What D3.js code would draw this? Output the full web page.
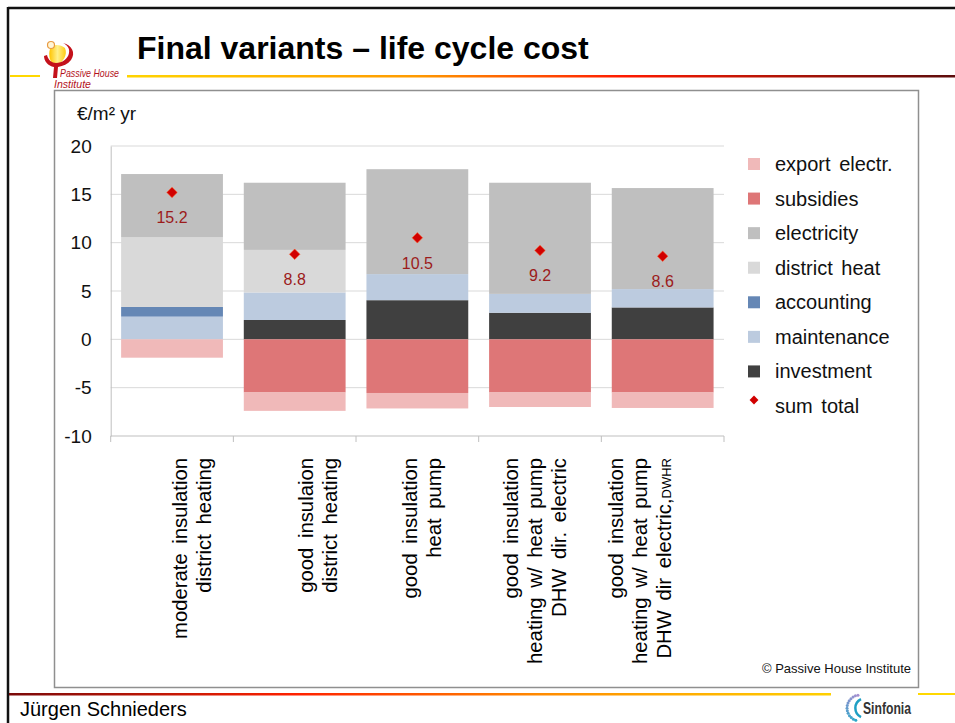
<!DOCTYPE html>
<html>
<head>
<meta charset="utf-8">
<script src="https://cdn.jsdelivr.net/npm/d3@7"></script>
<style>
    body { margin: 0; background: #fff; }
    svg { display: block; font-family: "Liberation Sans", Arial, sans-serif; }
</style>
</head>
<body>
<svg id="slide" width="955" height="723"></svg>
<script>
// ---- chart values ----
const categories = [
    ["moderate insulation", "district heating"],
    ["good insulaion", "district heating"],
    ["good insulation", "heat pump"],
    ["good insulation", "heating w/ heat pump", "DHW dir. electric"],
    ["good insulation", "heating w/ heat pump", "DHW dir electric,|DWHR"]
];
const investment   = [0, 2.0, 4.05, 2.75, 3.3];
const maintenance  = [2.35, 2.85, 2.7, 1.95, 1.9];
const accounting   = [1.0, 0, 0, 0, 0];
const districtHeat = [7.2, 4.4, 0, 0, 0];
const electricity  = [6.55, 6.95, 10.85, 11.5, 10.45];
const subsidies    = [0, -5.5, -5.55, -5.5, -5.5];
const exportElectr = [-1.9, -1.9, -1.6, -1.5, -1.6];
const sumTotal     = [15.2, 8.8, 10.5, 9.2, 8.6];
const yTicks       = [-10, -5, 0, 5, 10, 15, 20];

// series in stacking order (bottom up, then zero down)
const series = [
    {key: "investment",   label: "investment",     values: investment,   color: "#404040"},
    {key: "maintenance",  label: "maintenance",    values: maintenance,  color: "#bccbdf"},
    {key: "accounting",   label: "accounting",     values: accounting,   color: "#6587b5"},
    {key: "districtHeat", label: "district heat",  values: districtHeat, color: "#d9d9d9"},
    {key: "electricity",  label: "electricity",    values: electricity,  color: "#bfbfbf"},
    {key: "subsidies",    label: "subsidies",      values: subsidies,    color: "#de7677"},
    {key: "exportElectr", label: "export electr.", values: exportElectr, color: "#f0b9b9"}
];
const legendOrder = ["exportElectr", "subsidies", "electricity", "districtHeat",
                     "accounting", "maintenance", "investment"];

// small sideways nudges of the rotated category labels (Excel places them unevenly)
const labelNudge = [15, 18, 0, -22, -40];

const svg = d3.select("#slide");

// ---------- slide furniture ----------
const defs = svg.append("defs");

function gradient(id, stops){
    const g = defs.append("linearGradient").attr("id", id)
        .attr("x1", "0%").attr("x2", "100%").attr("y1", "0%").attr("y2", "0%");
    stops.forEach(function(s){
        g.append("stop").attr("offset", s[0]).attr("stop-color", s[1]);
    });
}
gradient("topLine", [["0%", "#ffd400"], ["35%", "#ff9a00"], ["60%", "#ff1a00"], ["100%", "#5c0c0c"]]);
gradient("bottomLine", [["0%", "#7a0a0a"], ["35%", "#ff2200"], ["65%", "#ff8c00"], ["100%", "#ffd000"]]);
gradient("blob", [["0%", "#ffc400"], ["50%", "#fff08a"], ["100%", "#ffcc10"]]);

// black slide edge
svg.append("line").attr("x1", 8).attr("x2", 955).attr("y1", 8).attr("y2", 8)
    .attr("stroke", "#111").attr("stroke-width", 2.5);
svg.append("line").attr("x1", 8).attr("x2", 8).attr("y1", 7).attr("y2", 723)
    .attr("stroke", "#111").attr("stroke-width", 2.5);

// coloured rules
svg.append("rect").attr("x", 10).attr("y", 75).attr("width", 30).attr("height", 2).attr("fill", "#ffd800");
svg.append("rect").attr("x", 127).attr("y", 75).attr("width", 828).attr("height", 2.5).attr("fill", "url(#topLine)");
svg.append("rect").attr("x", 9).attr("y", 693).attr("width", 822).attr("height", 2.5).attr("fill", "url(#bottomLine)");
svg.append("rect").attr("x", 918).attr("y", 693).attr("width", 37).attr("height", 2).attr("fill", "#ffd800");

// passive house logo (rough)
const logo = svg.append("g").attr("id", "phi-logo");
logo.append("path")
    .attr("d", "M50,49 C52,44 60,44 65,48 C68,55 63,63 55,66 C50,63 48,55 50,49 Z")
    .attr("fill", "url(#blob)");
logo.append("path")
    .attr("d", "M63,43 C72,45 76,53 71,60 C68,64 63,66 58,67 L57,78 L53,78 L54,67 C48,66 44,61 44,56 L47,55 C48,60 52,63 56,63 C62,63 68,59 69,53 C70,48 67,45 63,43 Z")
    .attr("fill", "#c4121b");
logo.append("circle").attr("cx", 51).attr("cy", 45).attr("r", 3.5)
    .attr("fill", "#fff6d8").attr("stroke", "#e89a40").attr("stroke-width", 1.2);
logo.append("text").attr("x", 60).attr("y", 77)
    .attr("font-size", 11).attr("font-style", "italic").attr("fill", "#b3121b")
    .attr("textLength", 59).attr("lengthAdjust", "spacingAndGlyphs")
    .text("Passive House");
logo.append("text").attr("x", 54).attr("y", 88)
    .attr("font-size", 11).attr("font-style", "italic").attr("fill", "#b3121b")
    .attr("textLength", 37).attr("lengthAdjust", "spacingAndGlyphs")
    .text("Institute");

// title
svg.append("text").attr("x", 137).attr("y", 59)
    .attr("font-size", 32).attr("font-weight", "bold").attr("fill", "#000")
    .text("Final variants \u2013 life cycle cost");

// chart frame
svg.append("rect").attr("x", 54.5).attr("y", 90.5).attr("width", 864).attr("height", 597)
    .attr("fill", "#fff").attr("stroke", "#8f8f8f").attr("stroke-width", 1.5);

// footer
svg.append("text").attr("x", 20).attr("y", 716)
    .attr("font-size", 20).attr("fill", "#000").text("J\u00fcrgen Schnieders");
svg.append("text").attr("x", 911).attr("y", 673).attr("text-anchor", "end")
    .attr("font-size", 13).attr("fill", "#111").text("\u00a9 Passive House Institute");

// sinfonia mark
const sinf = svg.append("g").attr("id", "sinfonia");
d3.range(0, 14).forEach(function(i){
    const a = Math.PI * 0.55 + i * 0.065 * Math.PI;
    sinf.append("circle")
        .attr("cx", 860 + 13 * Math.cos(a))
        .attr("cy", 708 - 13 * Math.sin(a))
        .attr("r", 1.5)
        .attr("fill", d3.interpolateRgb("#a58fd0", "#2aa7c9")(i / 13));
});
sinf.append("path").attr("d", "M861,699 A10,10 0 0,0 861,717")
    .attr("fill", "none").attr("stroke", "#1f9fc4").attr("stroke-width", 2.5);
sinf.append("text").attr("x", 863).attr("y", 714)
    .attr("font-size", 16).attr("font-weight", "bold").attr("fill", "#333")
    .attr("textLength", 48).attr("lengthAdjust", "spacingAndGlyphs")
    .text("Sinfonia");

// ---------- chart ----------
const plot = {left: 110.7, right: 724, top: 146, bottom: 436};

const x = d3.scaleBand()
    .domain(d3.range(categories.length))
    .range([plot.left, plot.right])
    .paddingInner(0.17)
    .paddingOuter(0.085);

const y = d3.scaleLinear()
    .domain([-10, 20])
    .range([plot.bottom, plot.top]);

const chart = svg.append("g").attr("id", "chart");

// gridlines
chart.append("g").selectAll("line")
    .data(yTicks.filter(function(t){ return t > -10; }))
    .enter().append("line")
    .attr("x1", plot.left).attr("x2", plot.right)
    .attr("y1", function(d){ return y(d); }).attr("y2", function(d){ return y(d); })
    .attr("stroke", "#d9d9d9").attr("stroke-width", 1);

// y axis (plain hyphen for negatives, like the slide)
const yAxis = chart.append("g")
    .attr("transform", "translate(" + plot.left + ",0)")
    .call(d3.axisLeft(y).tickValues(yTicks).tickSize(0).tickPadding(19)
        .tickFormat(function(d){ return String(d); }));
yAxis.select(".domain").attr("stroke", "#bfbfbf");
yAxis.selectAll("text").attr("font-size", 19).attr("fill", "#111")
    .attr("font-family", "'Liberation Sans', Arial, sans-serif");

// x axis line with boundary ticks
const step = x.step();
chart.append("line")
    .attr("x1", plot.left).attr("x2", plot.right)
    .attr("y1", y(-10)).attr("y2", y(-10))
    .attr("stroke", "#bfbfbf");
chart.append("g").selectAll("line")
    .data(d3.range(categories.length + 1))
    .enter().append("line")
    .attr("x1", function(i){ return plot.left + i * step; })
    .attr("x2", function(i){ return plot.left + i * step; })
    .attr("y1", y(-10)).attr("y2", y(-10) + 6)
    .attr("stroke", "#bfbfbf");

// unit label
svg.append("text").attr("x", 77).attr("y", 120)
    .attr("font-size", 19).attr("fill", "#111").text("\u20ac/m\u00b2 yr");

// stacked bars
const table = categories.map(function(c, i){
    const row = {index: i};
    series.forEach(function(s){ row[s.key] = s.values[i]; });
    return row;
});
const stacked = d3.stack()
    .keys(series.map(function(s){ return s.key; }))
    .offset(d3.stackOffsetDiverging)(table);

const colorOf = {};
series.forEach(function(s){ colorOf[s.key] = s.color; });

chart.append("g").selectAll("g")
    .data(stacked)
    .enter().append("g")
    .attr("fill", function(d){ return colorOf[d.key]; })
    .selectAll("rect")
    .data(function(d){ return d.filter(function(p){ return p[1] !== p[0]; }); })
    .enter().append("rect")
    .attr("x", function(d){ return x(d.data.index); })
    .attr("width", x.bandwidth())
    .attr("y", function(d){ return y(Math.max(d[0], d[1])); })
    .attr("height", function(d){ return Math.abs(y(d[0]) - y(d[1])); });

// sum total markers and labels
const diamond = d3.symbol().type(d3.symbolDiamond2).size(70);
const sums = chart.append("g").selectAll("g")
    .data(sumTotal)
    .enter().append("g")
    .attr("transform", function(d, i){
        return "translate(" + (x(i) + x.bandwidth() / 2) + "," + y(d) + ")";
    });
sums.append("path").attr("d", diamond)
    .attr("fill", "#d10000").attr("stroke", "#ff5a2a").attr("stroke-width", 0.6);
sums.append("text").attr("y", 31).attr("text-anchor", "middle")
    .attr("font-size", 16).attr("fill", "#9c1b1b")
    .text(function(d){ return d.toFixed(1); });

// category labels, rotated
categories.forEach(function(lines, i){
    const cx = x(i) + x.bandwidth() / 2 + labelNudge[i];
    lines.forEach(function(line, k){
        const t = svg.append("text")
            .attr("transform", "translate(" + (cx + k * 24) + ",458) rotate(-90)")
            .attr("text-anchor", "end")
            .attr("font-size", 20.3)
            .attr("word-spacing", 4)
            .attr("fill", "#000");
        const parts = line.split("|");
        t.append("tspan").text(parts[0]);
        if (parts.length > 1){
            t.append("tspan").attr("font-size", 13).text(parts[1]);
        }
    });
});

// legend
const legendY = d3.scalePoint()
    .domain(legendOrder.concat(["sum"]))
    .range([164, 406]);
const legend = svg.append("g").attr("id", "legend");
legendOrder.forEach(function(key){
    const s = series.find(function(d){ return d.key === key; });
    legend.append("rect")
        .attr("x", 748).attr("y", legendY(key) - 6)
        .attr("width", 12).attr("height", 12)
        .attr("fill", s.color);
    legend.append("text")
        .attr("x", 775).attr("y", legendY(key) + 7)
        .attr("font-size", 20).attr("word-spacing", 3).attr("fill", "#111")
        .text(s.label);
});
legend.append("path")
    .attr("transform", "translate(754," + (legendY("sum") - 6) + ")")
    .attr("d", d3.symbol().type(d3.symbolDiamond2).size(50))
    .attr("fill", "#d10000");
legend.append("text")
    .attr("x", 775).attr("y", legendY("sum") + 7)
    .attr("font-size", 20).attr("word-spacing", 3).attr("fill", "#111")
    .text("sum total");
</script>
</body>
</html>
